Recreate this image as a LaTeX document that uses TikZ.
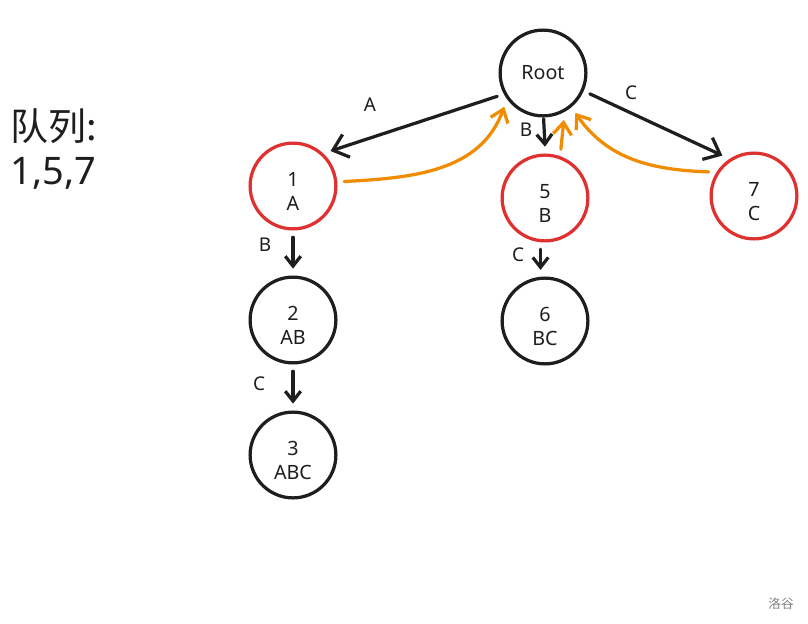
\documentclass[tikz,border=0pt]{standalone}
\usepackage{fontspec}
\setmainfont{Noto Sans}
\newfontfamily\cjk{Noto Sans CJK SC}
\usepackage{xcolor}
\usetikzlibrary{arrows.meta, positioning}

\definecolor{inkblack}{HTML}{1E1E1E}
\definecolor{inkred}{HTML}{E03131}
\definecolor{inkorange}{HTML}{F08C00}

% number over prefix, set a little below the centre
\newcommand{\keytext}[2]{\raisebox{-5.5pt}[\height][\depth]{\begin{tabular}{@{}c@{}}#1\\#2\end{tabular}}}

\tikzset{
  trienode/.style={circle, draw=inkblack, line width=2.3pt, minimum size=61pt,
    inner sep=0pt, outer sep=6pt, text=inkblack,
    font=\fontsize{14}{17.5}\selectfont},
  queued/.style={trienode, draw=inkred},
  edgearrow/.style={draw=inkblack, line width=2.3pt, line cap=round,
    -{Straight Barb[length=7pt,width=11pt]}},
  longtip/.style={-{Straight Barb[length=10pt,width=17pt]}},
  midtip/.style={-{Straight Barb[length=8.5pt,width=13pt]}},
  backarrow/.style={edgearrow, draw=inkorange},
  edgelabel/.style={text=inkblack, font=\fontsize{13.5}{15}\selectfont},
}

\begin{document}
\begin{tikzpicture}[x=0.025cm, y=-0.025cm]
  \useasboundingbox (0,0) rectangle (808,624);

  % Queue on the left
  \node[anchor=north west, align=left, text=inkblack,
        font=\fontsize{27}{31}\selectfont] (queue) at (6,104) {{\cjk 队列:}\\1,5,7};

  % Trie nodes
  \node[trienode] (root) at (543,73) {Root};
  \node[queued] (n1) at (293,186) {\keytext{1}{A}};
  \node[queued] (n5) at (545,198) {\keytext{5}{B}};
  \node[queued] (n7) at (754,196) {\keytext{7}{C}};
  \node[trienode] (n2) at (293,320) {\keytext{2}{AB}};
  \node[trienode] (n6) at (545,321) {\keytext{6}{BC}};
  \node[trienode] (n3) at (293,455) {\keytext{3}{ABC}};

  % Trie edges
  \draw[edgearrow, longtip] (root.207) -- (n1.43);
  \draw[edgearrow, shorten <=-4pt] (root.-89) -- (n5.north);
  \draw[edgearrow, longtip] (root.-24) -- (n7.128);
  \draw[edgearrow] (n1.south) -- (n2.north);
  \draw[edgearrow] (n5.-95) -- (n6.95);
  \draw[edgearrow] (n2.south) -- (n3.north);

  % Edge labels
  \node[edgelabel] (lA) at (370,105) {A};
  \node[edgelabel] (lB) at (526,130) {B};
  \node[edgelabel] (lC) at (631,93) {C};
  \node[edgelabel] (lAB) at (265,245) {B};
  \node[edgelabel] (lBC) at (518,255) {C};
  \node[edgelabel] (lABC) at (259,384) {C};

  % Fail links back to the root
  \draw[backarrow, midtip] (n1.5) to[out=3, in=-110] (root.221);
  \draw[backarrow, midtip] (n5.72) -- (root.-66);
  \draw[backarrow, midtip] (n7.152) to[out=178, in=-55] (root.-51);

  % Watermark
  \node[text=gray, font=\cjk\fontsize{9}{10}\selectfont] (mark) at (781,604) {洛谷};
\end{tikzpicture}
\end{document}
